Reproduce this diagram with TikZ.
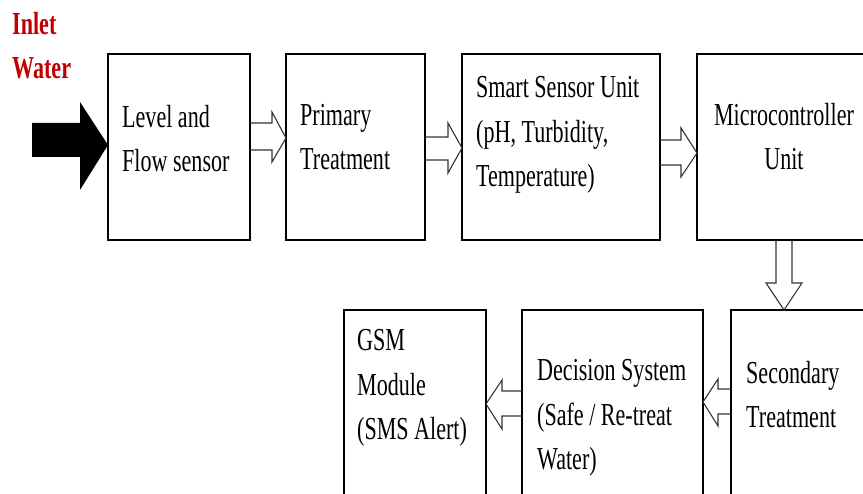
\documentclass[tikz,border=0pt]{standalone}
\usepackage{fontspec}
\setmainfont{Liberation Serif}[FakeStretch=0.69]
\definecolor{inletred}{RGB}{192,0,0}

\begin{document}
\begin{tikzpicture}[x=1pt,y=-1pt,line join=miter]
  \tikzstyle{block}=[rectangle,draw=black,line width=1.2pt,inner sep=0pt,outer sep=0pt,
                     minimum height=186pt]
  \tikzstyle{low block}=[block,minimum height=194pt]
  \tikzstyle{box text}=[inner sep=0pt,align=left,anchor=base west,
                        font=\fontsize{32}{44.5}\selectfont]
  \tikzstyle{hollow arrow}=[draw=black!80,line width=1.1pt]
  \useasboundingbox (0,0) rectangle (863,494);
  \clip (0,0) rectangle (863,494);

  \node [block,minimum width=142pt] (lvl) at (179,147) {};
  \node [block,minimum width=139pt] (pri) at (355.5,147) {};
  \node [block,minimum width=198pt] (ssu) at (561,147) {};
  \node [block,minimum width=180pt] (mcu) at (787,147) {};
  \node [low block,minimum width=150pt] (sec) at (806,407) {};
  \node [low block,minimum width=181pt] (dec) at (612.5,407) {};
  \node [low block,minimum width=142pt] (gsm) at (415,407) {};

  % text nodes sit on the baseline of their last line
  \node [box text,text=inletred,font=\fontsize{32}{44}\selectfont\bfseries] (inlet) at (12,79) {Inlet\\Water};
  \node [box text] (lvl-txt) at (122,172) {Level and\\Flow sensor};
  \node [box text] (pri-txt) at (300,170) {Primary\\Treatment};
  \node [box text] (ssu-txt) at (476,187) {Smart Sensor Unit\\(pH, Turbidity,\\Temperature)};
  \node [box text,align=center,anchor=base] (mcu-txt) at (784,170) {Microcontroller\\Unit};
  \node [box text] (sec-txt) at (746,428) {Secondary\\Treatment};
  \node [box text] (dec-txt) at (537,470) {Decision System\\(Safe / Re-treat\\Water)};
  \node [box text] (gsm-txt) at (357,440) {GSM\\Module\\(SMS Alert)};

  \fill (lvl.west |- 0,145) -- (80,102) -- (80,123) -- (32,123) -- (32,157) -- (80,157) -- (80,190) -- cycle;
  \draw [hollow arrow] (lvl.east |- 0,123) -- (272,123) -- (272,112) -- (pri.west |- 0,138)
    -- (272,162) -- (272,150) -- (lvl.east |- 0,150);
  \draw [hollow arrow] (pri.east |- 0,137) -- (448,137) -- (448,123) -- (ssu.west |- 0,148)
    -- (448,173) -- (448,160) -- (pri.east |- 0,160);
  \draw [hollow arrow] (ssu.east |- 0,140) -- (681,140) -- (681,128) -- (mcu.west |- 0,153)
    -- (681,177) -- (681,165) -- (ssu.east |- 0,165);
  \draw [hollow arrow] (776,0 |- mcu.south) -- (776,283) -- (766,283) -- (784,0 |- sec.north)
    -- (802,283) -- (792,283) -- (792,0 |- mcu.south);
  \draw [hollow arrow] (sec.west |- 0,389) -- (718,389) -- (718,379) -- (dec.east |- 0,402)
    -- (718,426) -- (718,414) -- (sec.west |- 0,414);
  \draw [hollow arrow] (dec.west |- 0,391) -- (502,391) -- (502,380) -- (gsm.east |- 0,404)
    -- (502,429) -- (502,416) -- (dec.west |- 0,416);
\end{tikzpicture}
\end{document}
